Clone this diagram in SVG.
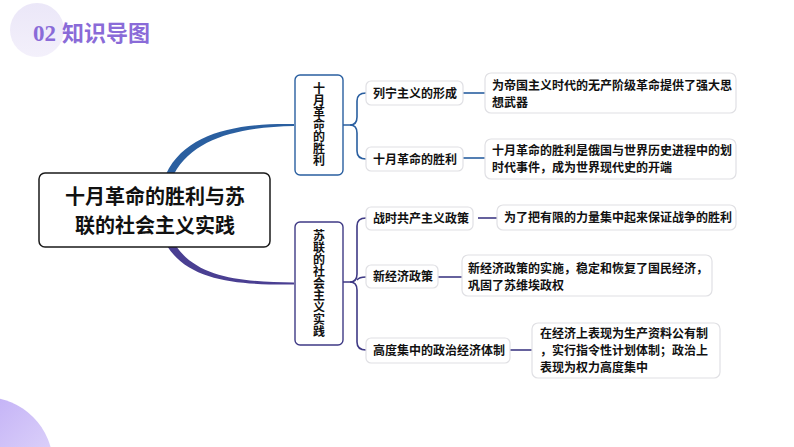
<svg xmlns="http://www.w3.org/2000/svg" width="794" height="447" viewBox="0 0 794 447">
<defs>
<linearGradient id="gBL" x1="0" y1="0" x2="1" y2="1">
<stop offset="0" stop-color="#b49ef4"/>
<stop offset="1" stop-color="#ece6fc"/>
</linearGradient>
<linearGradient id="gTL" x1="0" y1="0" x2="0" y2="1">
<stop offset="0" stop-color="#ebe7f8"/>
<stop offset="1" stop-color="#f3f0fb"/>
</linearGradient>
</defs>
<style>
text{font-family:"Noto Sans CJK SC","Noto Sans",sans-serif;fill:#111;font-weight:bold}
.leaf{fill:#fff;stroke:#e0e0e4;stroke-width:1.2}
.t12{font-size:12px}
.vt{font-size:12px;writing-mode:vertical-rl;font-weight:bold}
.c1{fill:none;stroke:#2a5fa0;stroke-width:1.6}
.c2{fill:none;stroke:#3f3a85;stroke-width:1.6}
</style>
<rect width="794" height="447" fill="#fff"/>
<circle cx="37" cy="30" r="27" fill="url(#gTL)"/>
<circle cx="-15" cy="465" r="68" fill="url(#gBL)"/>
<text x="33" y="41" style="font-family:'Liberation Serif',serif;font-size:23px;fill:#8a6bd8">02</text>
<text x="62" y="41" style="font-size:22px;fill:#8a6bd8">知识导图</text>

<g id="connectors">
<path d="M166,174 C186,132 238,123 294,124 L294,126 C242,127 194,137 174,174 Z" fill="#2a5fa0"/>
<path d="M167,246 C190,282 240,285 294,284.5 L294,282.5 C242,282 198,278 176,246 Z" fill="#4a3f92"/>
<path class="c1" d="M343,125 H350 Q357,125 357,117 V101 Q357,93 366,93"/>
<path class="c1" d="M350,125 Q357,125 357,133 V151 Q357,159 366,159"/>
<path class="c1" d="M463,93 H485"/>
<path class="c1" d="M463,158 H485"/>
<path class="c2" d="M343,282 H350 Q357,282 357,274 V226 Q357,218 366,218"/>
<path class="c2" d="M350,282 Q357,282 357,290 V342 Q357,350 366,350"/>
<path class="c2" d="M357,280 Q359,277 366,277"/>
<path class="c2" d="M478,218 H497"/>
<path class="c2" d="M438,277 H462"/>
<path class="c2" d="M510,350 H532"/>
</g>

<g id="main">
<rect x="39" y="173" width="231" height="74" rx="6" fill="#fff" stroke="#1a1a1a" stroke-width="1.5"/>
<text x="155" y="203.5" text-anchor="middle" style="font-size:20px">十月革命的胜利与苏</text>
<text x="155" y="233" text-anchor="middle" style="font-size:20px">联的社会主义实践</text>
</g>

<g id="branch1">
<rect x="295" y="75" width="48" height="100" rx="5" fill="#fff" stroke="#2a5fa0" stroke-width="1.4"/>
<text class="vt" x="319" y="124" text-anchor="middle">十月革命的胜利</text>
</g>

<g id="branch2">
<rect x="295" y="222" width="48" height="123" rx="5" fill="#fff" stroke="#3f3a85" stroke-width="1.4"/>
<text class="vt" x="319" y="283" text-anchor="middle">苏联的社会主义实践</text>
</g>

<g id="c-leninism">
<rect class="leaf" x="366" y="81" width="97" height="24" rx="5"/>
<text class="t12" x="373" y="97.5">列宁主义的形成</text>
</g>
<g id="c-october">
<rect class="leaf" x="366" y="147" width="97" height="24" rx="5"/>
<text class="t12" x="373" y="163.5">十月革命的胜利</text>
</g>
<g id="l-leninism">
<rect class="leaf" x="485" y="73" width="251" height="40" rx="6"/>
<text class="t12"><tspan x="492" y="89.5">为帝国主义时代的无产阶级革命提供了强大思</tspan><tspan x="492" y="106.5">想武器</tspan></text>
</g>
<g id="l-october">
<rect class="leaf" x="485" y="139" width="251" height="40" rx="6"/>
<text class="t12"><tspan x="492" y="154.5">十月革命的胜利是俄国与世界历史进程中的划</tspan><tspan x="492" y="171.5">时代事件，成为世界现代史的开端</tspan></text>
</g>

<g id="c-warcomm">
<rect class="leaf" x="366" y="207" width="107" height="23" rx="5"/>
<text class="t12" x="373" y="222.5">战时共产主义政策</text>
</g>
<g id="l-warcomm">
<rect class="leaf" x="497" y="205" width="239" height="25" rx="6"/>
<text class="t12" x="504" y="222">为了把有限的力量集中起来保证战争的胜利</text>
</g>
<g id="c-nep">
<rect class="leaf" x="366" y="265" width="72" height="23" rx="5"/>
<text class="t12" x="373" y="281">新经济政策</text>
</g>
<g id="l-nep">
<rect class="leaf" x="462" y="255" width="250" height="41" rx="6"/>
<text class="t12"><tspan x="468" y="272.5">新经济政策的实施，稳定和恢复了国民经济，</tspan><tspan x="468" y="289.5">巩固了苏维埃政权</tspan></text>
</g>
<g id="c-central">
<rect class="leaf" x="366" y="338" width="144" height="25" rx="5"/>
<text class="t12" x="373" y="354.5">高度集中的政治经济体制</text>
</g>
<g id="l-central">
<rect class="leaf" x="532" y="323" width="188" height="55" rx="6"/>
<text class="t12"><tspan x="540" y="337.5">在经济上表现为生产资料公有制</tspan><tspan x="540" y="354.5">，实行指令性计划体制；政治上</tspan><tspan x="540" y="371.5">表现为权力高度集中</tspan></text>
</g>
</svg>
